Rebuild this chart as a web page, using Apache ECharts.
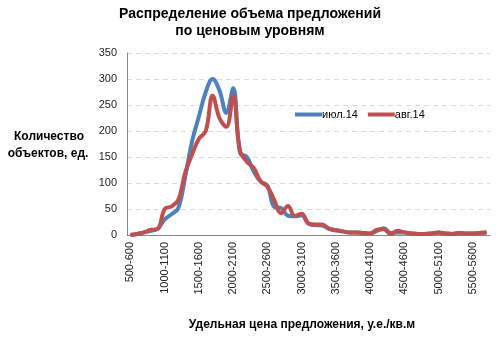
<!DOCTYPE html>
<html>
<head>
<meta charset="utf-8">
<script src="https://cdn.jsdelivr.net/npm/echarts@6/dist/echarts.min.js"></script>
<style>html,body{margin:0;padding:0;background:#fff}#c{width:499px;height:338px}</style>
</head>
<body>
<div id="c"></div>
<script>
var categories = [];
for (var s = 500; s <= 5700; s += 100) { categories.push(s + '-' + (s + 100)); }

var seriesNames = ['июл.14', 'авг.14'];
var julValues = [0, 2, 5, 8, 12, 30, 40, 52, 112, 180, 228, 275, 300, 278, 235, 282, 158, 150, 122, 103, 95, 54, 52, 37, 36, 38,
  22, 19, 18, 12, 9, 7, 5, 5, 4, 3, 8, 13, 4, 5, 5, 3, 2, 2, 3, 5, 3, 2, 4, 3, 3, 4, 5];
var augValues = [0, 2, 5, 10, 12, 50, 55, 68, 120, 155, 185, 200, 268, 225, 208, 268, 162, 141, 129, 103, 93, 67, 42, 56, 37, 41,
  22, 20, 20, 12, 9, 7, 5, 5, 4, 3, 10, 11, 2, 8, 5, 3, 2, 2, 3, 5, 3, 2, 4, 3, 3, 4, 5];
var yTicks = {min: 0, max: 350, step: 50};

var chart = echarts.init(document.getElementById('c'), null, {renderer: 'canvas'});
var font = 'Liberation Sans, Arial, sans-serif';
var boldFont = 'bold 12px Liberation Sans, Arial, sans-serif';
chart.setOption({
  animation: false,
  backgroundColor: '#fff',
  title: {
    text: 'Распределение объема предложений\nпо ценовым уровням',
    left: 245, top: 1, textAlign: 'center',
    textStyle: {fontFamily: font, fontSize: 14, fontWeight: 'bold', color: '#000', lineHeight: 17}
  },
  legend: {
    data: seriesNames,
    left: 290, top: 104,
    icon: 'rect', itemWidth: 27, itemHeight: 4, itemGap: 10,
    textStyle: {fontFamily: font, fontSize: 11, color: '#000', padding: [0, 0, 0, -5]}
  },
  grid: {left: 127, right: 9, top: 53, bottom: 103, containLabel: false},
  xAxis: {
    type: 'category', data: categories, boundaryGap: true,
    axisLine: {lineStyle: {color: '#868686', width: 1}},
    axisTick: {show: false},
    axisLabel: {interval: 4, rotate: 90, fontFamily: font, fontSize: 11, color: '#222', margin: 7},
    splitLine: {show: false}
  },
  yAxis: {
    type: 'value', min: yTicks.min, max: yTicks.max, interval: yTicks.step,
    axisLine: {show: true, lineStyle: {color: '#868686', width: 1}},
    axisTick: {show: false},
    axisLabel: {fontFamily: font, fontSize: 11, color: '#222', margin: 10},
    splitLine: {lineStyle: {color: '#d9d9d9', type: [5, 4], width: 1}}
  },
  graphic: [
    {type: 'text', x: 49, y: 137,
     style: {text: 'Количество', textAlign: 'center', textVerticalAlign: 'middle', font: boldFont, fill: '#000'}},
    {type: 'text', x: 48, y: 154,
     style: {text: 'объектов, ед.', textAlign: 'center', textVerticalAlign: 'middle', font: boldFont, fill: '#000'}},
    {type: 'text', x: 302, y: 325,
     style: {text: 'Удельная цена предложения, у.е./кв.м', textAlign: 'center', textVerticalAlign: 'middle', font: boldFont, fill: '#000'}}
  ],
  series: [
    {name: seriesNames[0], type: 'line', data: julValues, smooth: 0.4, showSymbol: false,
     lineStyle: {color: '#4F81BD', width: 4}, itemStyle: {color: '#4F81BD'}, z: 2},
    {name: seriesNames[1], type: 'line', data: augValues, smooth: 0.4, showSymbol: false,
     lineStyle: {color: '#C0504D', width: 4}, itemStyle: {color: '#C0504D'}, z: 3}
  ]
});
</script>
</body>
</html>
